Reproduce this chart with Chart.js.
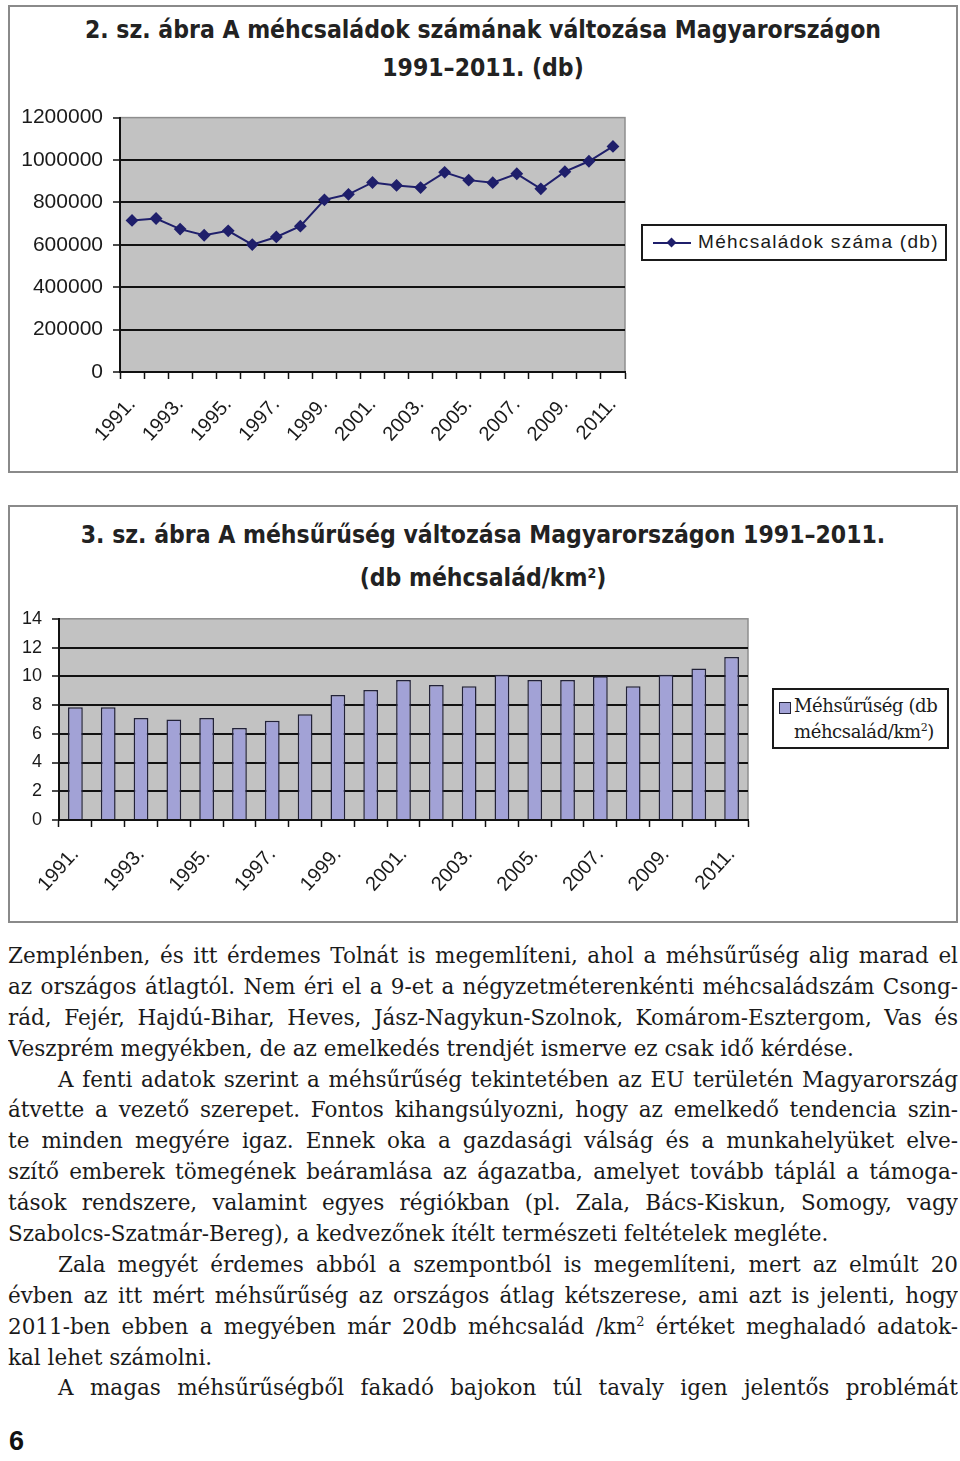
<!DOCTYPE html>
<html>
<head>
<meta charset="utf-8">
<script src="https://cdn.jsdelivr.net/npm/chart.js@4.4.1/dist/chart.umd.min.js"></script>
<style>
  body { margin: 0; width: 960px; height: 1461px; background: #fff; position: relative; overflow: hidden; }
  .box { position: absolute; left: 8px; width: 950px; border: 2px solid #8a8a8a; box-sizing: border-box; }
  .title { position: absolute; left: 8px; width: 950px; text-align: center; font-family: 'DejaVu Sans', sans-serif;
           font-weight: bold; font-stretch: condensed; font-size: 24.5px; color: #222; line-height: 30px; white-space: nowrap; }
  sup { line-height: 0; vertical-align: 0.6em; }
  canvas { position: absolute; }
  .legend { position: absolute; border: 2px solid #1a1a1a; box-sizing: border-box; background: #fff; }
  .text { position: absolute; left: 8px; width: 950px; top: 941px; font-family: 'DejaVu Serif', serif;
          font-size: 21.5px; line-height: 30.9px; color: #1a1a1a; }
  .text div { white-space: nowrap; text-align: justify; text-align-last: justify; height: 30.9px; overflow: hidden; }
  .text div.end { text-align-last: left; }
  .text div.ind { padding-left: 50px; }
  .pg { position: absolute; left: 9px; top: 1426px; font: bold 27px 'Liberation Sans', Arial, sans-serif; color: #111; }
</style>
</head>
<body>

<div class="box" style="top:5px;height:468px"></div>
<div class="title" style="top:15px">2. sz. ábra A méhcsaládok számának változása Magyarországon</div>
<div class="title" style="top:53px">1991–2011. (db)</div>
<canvas id="c1" width="645" height="375" style="left:10px;top:95px"></canvas>
<div class="legend" style="left:641px;top:224px;width:306px;height:37px">
  <div style="position:absolute;left:10px;top:16px;width:38px;height:2px;background:#1f1f6b"></div>
  <div style="position:absolute;left:25px;top:13px;width:7px;height:7px;background:#1f1f6b;transform:rotate(45deg)"></div>
  <div style="position:absolute;left:55px;top:5px;font:19px 'Liberation Sans',Arial,sans-serif;letter-spacing:1.3px;color:#1a1a1a">Méhcsaládok száma (db)</div>
</div>

<div class="box" style="top:505px;height:418px"></div>
<div class="title" style="top:520px">3. sz. ábra A méhsűrűség változása Magyarországon 1991–2011.</div>
<div class="title" style="top:563px">(db méhcsalád/km<sup style="font-size:14px">2</sup>)</div>
<canvas id="c2" width="765" height="320" style="left:10px;top:598px"></canvas>
<div class="legend" style="left:772px;top:688px;width:177px;height:61px">
  <div style="position:absolute;left:5px;top:12px;width:10px;height:10px;background:#a2a2d6;border:1.5px solid #222238"></div>
  <div style="position:absolute;left:20px;top:3px;font:18px 'DejaVu Serif',serif;line-height:26px;color:#1a1a1a;letter-spacing:-0.4px">Méhsűrűség (db<br>méhcsalád/km<sup style="font-size:11px">2</sup>)</div>
</div>

<div class="text">
  <div>Zemplénben, és itt érdemes Tolnát is megemlíteni, ahol a méhsűrűség alig marad el</div>
  <div>az országos átlagtól. Nem éri el a 9-et a négyzetméterenkénti méhcsaládszám Csong-</div>
  <div>rád, Fejér, Hajdú-Bihar, Heves, Jász-Nagykun-Szolnok, Komárom-Esztergom, Vas és</div>
  <div class="end">Veszprém megyékben, de az emelkedés trendjét ismerve ez csak idő kérdése.</div>
  <div class="ind">A fenti adatok szerint a méhsűrűség tekintetében az EU területén Magyarország</div>
  <div>átvette a vezető szerepet. Fontos kihangsúlyozni, hogy az emelkedő tendencia szin-</div>
  <div>te minden megyére igaz. Ennek oka a gazdasági válság és a munkahelyüket elve-</div>
  <div>szítő emberek tömegének beáramlása az ágazatba, amelyet tovább táplál a támoga-</div>
  <div>tások rendszere, valamint egyes régiókban (pl. Zala, Bács-Kiskun, Somogy, vagy</div>
  <div class="end">Szabolcs-Szatmár-Bereg), a kedvezőnek ítélt természeti feltételek megléte.</div>
  <div class="ind">Zala megyét érdemes abból a szempontból is megemlíteni, mert az elmúlt 20</div>
  <div>évben az itt mért méhsűrűség az országos átlag kétszerese, ami azt is jelenti, hogy</div>
  <div>2011-ben ebben a megyében már 20db méhcsalád /km<sup style="font-size:13px">2</sup> értéket meghaladó adatok-</div>
  <div class="end">kal lehet számolni.</div>
  <div class="ind">A magas méhsűrűségből fakadó bajokon túl tavaly igen jelentős problémát</div>
</div>
<div class="pg">6</div>

<script>
// years on the x axis (1991-2011)
const years = ['1991.', '1992.', '1993.', '1994.', '1995.', '1996.', '1997.', '1998.', '1999.', '2000.',
	'2001.', '2002.', '2003.', '2004.', '2005.', '2006.', '2007.', '2008.', '2009.', '2010.', '2011.']

// fig. 2: number of bee colonies (db)
const colonies = [715000, 724000, 674000, 645000, 666000, 601000, 637000, 688000, 812000, 838000,
	894000, 880000, 870000, 942000, 905000, 893000, 935000, 864000, 945000, 994000, 1064000]
const colonyTicks = [0, 200000, 400000, 600000, 800000, 1000000, 1200000]

// fig. 3: bee density (db colonies / km2)
const density = [7.85, 7.85, 7.1, 7.0, 7.1, 6.4, 6.9, 7.35, 8.7, 9.05,
	9.75, 9.4, 9.3, 10.1, 9.75, 9.75, 10.0, 9.3, 10.1, 10.55, 11.35]
const densityTicks = [0, 2, 4, 6, 8, 10, 12, 14]

// squeeze any body line that is too long for the column
document.querySelectorAll('.text div').forEach((el) => {
	let ls = 0
	while (el.scrollWidth > el.clientWidth && ls > -1.5) {
		ls -= 0.1
		el.style.letterSpacing = ls + 'px'
	}
})

const plotBg = {
	id: 'plotBg',
	beforeDraw(chart) {
		const { ctx, chartArea: a } = chart
		ctx.save()
		ctx.fillStyle = '#c2c2c2'
		ctx.fillRect(a.left, a.top, a.width, a.height)
		ctx.strokeStyle = '#8e8e8e'
		ctx.lineWidth = 1.5
		ctx.strokeRect(a.left, a.top, a.width, a.height)
		ctx.restore()
	}
}

const everyOther = (v, i) => (i % 2 === 0 ? years[i] : '')

const makeScales = (ticks, yWidth, xHeight, yFont, xFont, xPad) => ({
	x: {
		offset: true,
		grid: { offset: true, drawOnChartArea: false, drawTicks: true, tickLength: 7, tickColor: '#111', tickWidth: 1.5 },
		border: { display: true, color: '#111', width: 2 },
		ticks: {
			autoSkip: false,
			maxRotation: 48,
			minRotation: 48,
			padding: xPad,
			color: '#1a1a1a',
			font: { family: "'Liberation Sans', Arial, sans-serif", size: xFont },
			callback: everyOther
		},
		afterFit: (scale) => { scale.height = xHeight }
	},
	y: {
		min: ticks[0],
		max: ticks[ticks.length - 1],
		afterBuildTicks: (scale) => { scale.ticks = ticks.map((v) => ({ value: v })) },
		grid: {
			color: (c) => (c.tick && c.tick.value === ticks[ticks.length - 1] ? 'rgba(0,0,0,0)' : '#111'),
			lineWidth: 2,
			tickLength: 7,
			tickColor: '#111',
			tickWidth: 1.5
		},
		border: { display: true, color: '#111', width: 2 },
		ticks: {
			padding: 10,
			color: '#1a1a1a',
			font: { family: "'Liberation Sans', Arial, sans-serif", size: yFont },
			callback: (v) => String(v)
		},
		afterFit: (scale) => { scale.width = yWidth }
	}
})

new Chart(document.getElementById('c1'), {
	type: 'line',
	data: {
		labels: years,
		datasets: [{
			label: 'Méhcsaládok száma (db)',
			data: colonies,
			borderColor: '#1f1f6b',
			borderWidth: 2,
			pointStyle: 'rectRot',
			pointRadius: 5,
			pointBackgroundColor: '#1f1f6b',
			pointBorderColor: '#1f1f6b',
			tension: 0
		}]
	},
	options: {
		responsive: false,
		animation: false,
		layout: { padding: { left: 0, right: 30, top: 15, bottom: 0 } },
		plugins: { legend: { display: false }, tooltip: { enabled: false } },
		scales: makeScales(colonyTicks, 110, 98, 21, 20, 14)
	},
	plugins: [plotBg]
})

new Chart(document.getElementById('c2'), {
	type: 'bar',
	data: {
		labels: years,
		datasets: [{
			label: 'Méhsűrűség (db méhcsalád/km2)',
			data: density,
			backgroundColor: '#a2a2d6',
			borderColor: '#222238',
			borderWidth: 1.5,
			barPercentage: 0.45,
			categoryPercentage: 1
		}]
	},
	options: {
		responsive: false,
		animation: false,
		layout: { padding: { left: 0, right: 27, top: 17, bottom: 0 } },
		plugins: { legend: { display: false }, tooltip: { enabled: false } },
		scales: makeScales(densityTicks, 49, 98, 18, 20, 16)
	},
	plugins: [plotBg]
})
</script>
</body>
</html>
